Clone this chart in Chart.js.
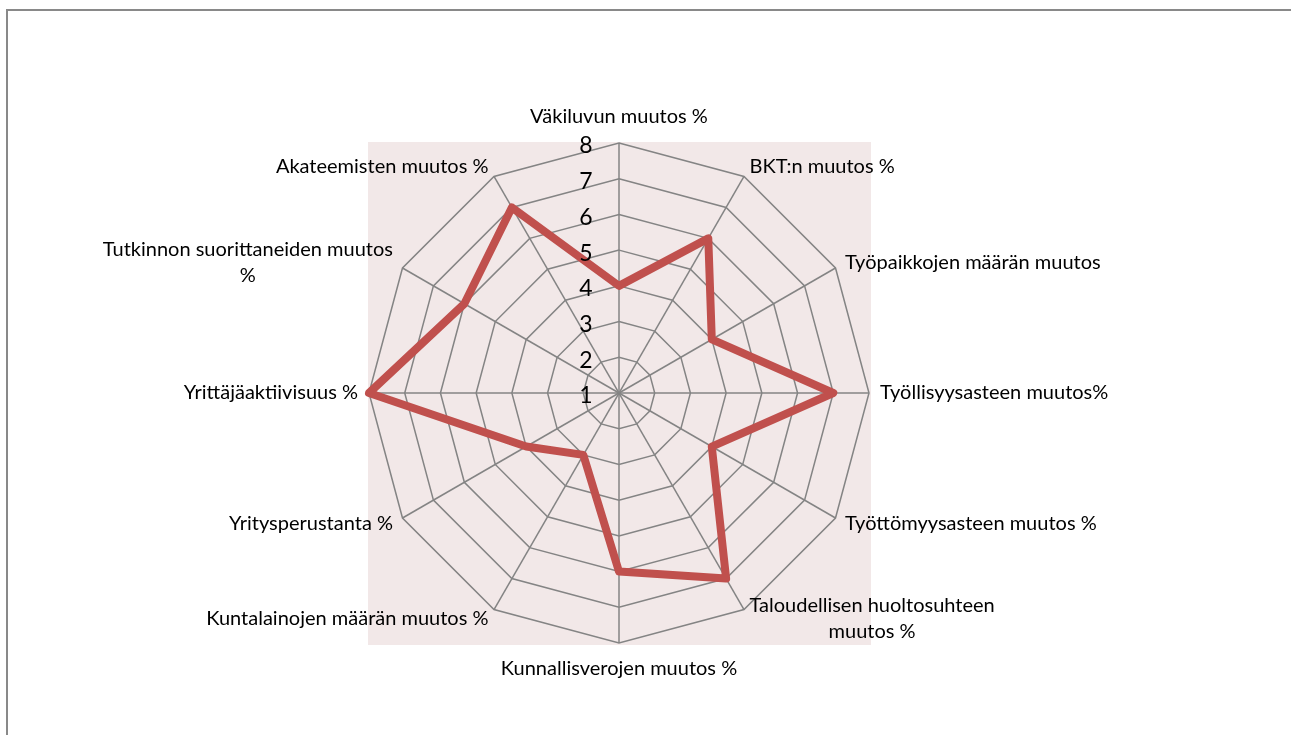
<!DOCTYPE html>
<html>
<head>
<meta charset="utf-8">
<script src="https://cdn.jsdelivr.net/npm/chart.js@4/dist/chart.umd.min.js"></script>
<style>
  html, body { margin: 0; padding: 0; background: #fff; }
  #wrap { position: relative; width: 1291px; height: 735px; }
</style>
</head>
<body>
<div id="wrap"><canvas id="radarChart" width="1291" height="735"></canvas></div>
<script>
// Data
const categories = [
    'Väkiluvun muutos %',
    'BKT:n muutos %',
    'Työpaikkojen määrän muutos',
    'Työllisyysasteen muutos%',
    'Työttömyysasteen muutos %',
    ['Taloudellisen huoltosuhteen', 'muutos %'],
    'Kunnallisverojen muutos %',
    'Kuntalainojen määrän muutos %',
    'Yritysperustanta %',
    'Yrittäjäaktiivisuus %',
    ['Tutkinnon suorittaneiden muutos', '%'],
    'Akateemisten muutos %'
];
const seriesValues = [4, 6, 4, 7, 4, 7, 6, 3, 4, 8, 6, 7];
const scaleMin = 1;
const scaleMax = 8;

const labelFont = '20px Lato';
const tickFont = '23px Lato';

// background square + outer frame
const backgroundPlugin = {
    id: 'plotBackground',
    beforeDraw(chart) {
        const ctx = chart.ctx;
        const s = chart.scales.r;
        const r = s.drawingArea + 1;
        ctx.save();
        ctx.fillStyle = '#f2e8e8';
        ctx.fillRect(s.xCenter - r, s.yCenter - r, r * 2 + 1, r * 2 + 1);
        // frame (top + left only visible)
        ctx.strokeStyle = '#898989';
        ctx.lineWidth = 2;
        ctx.beginPath();
        ctx.moveTo(7, chart.height);
        ctx.lineTo(7, 10);
        ctx.lineTo(chart.width, 10);
        ctx.stroke();
        ctx.restore();
    }
};

// tick numbers + category labels
const labelsPlugin = {
    id: 'radarLabels',
    afterDraw(chart) {
        const ctx = chart.ctx;
        const s = chart.scales.r;
        ctx.save();
        ctx.fillStyle = '#000';

        // tick labels, left of the vertical axis
        ctx.font = tickFont;
        ctx.textAlign = 'center';
        ctx.textBaseline = 'middle';
        s.ticks.forEach(t => {
            const d = s.getDistanceFromCenterForValue(t.value);
            ctx.fillText(String(t.value), s.xCenter - 33, s.yCenter - d + 3);
        });

        // category labels
        ctx.font = labelFont;
        const lineH = 26;
        categories.forEach((lab, i) => {
            const lines = Array.isArray(lab) ? lab : [lab];
            const p = s.getPointPosition(i, s.drawingArea + 11);
            const dx = p.x - s.xCenter;
            const blockW = Math.max(...lines.map(l => ctx.measureText(l).width));
            const blockH = lines.length * lineH;
            let cx, cy;
            if (Math.abs(dx) < 1) {
                cx = p.x;
                cy = p.y < s.yCenter ? p.y - 15 : p.y + 15;
            } else {
                cx = dx > 0 ? p.x + blockW / 2 : p.x - blockW / 2;
                cy = p.y;
            }
            ctx.textAlign = 'center';
            lines.forEach((l, j) => {
                ctx.fillText(l, cx, cy - blockH / 2 + lineH / 2 + j * lineH);
            });
        });
        ctx.restore();
    }
};

const ctx = document.getElementById('radarChart').getContext('2d');
const radarChart = new Chart(ctx, {
    type: 'radar',
    data: {
        labels: categories,
        datasets: [{
            data: seriesValues,
            borderColor: '#c0504d',
            borderWidth: 8,
            borderJoinStyle: 'round',
            fill: false,
            pointRadius: 0,
            pointHoverRadius: 0,
            tension: 0
        }]
    },
    options: {
        responsive: false,
        animation: false,
        layout: { padding: { left: 369, top: 143, right: 421, bottom: 91 } },
        plugins: { legend: { display: false }, tooltip: { enabled: false } },
        scales: {
            r: {
                min: scaleMin,
                max: scaleMax,
                ticks: { display: false, stepSize: 1 },
                pointLabels: { display: false },
                grid: { circular: false, color: '#848484', lineWidth: 1.5 },
                angleLines: { color: '#848484', lineWidth: 1.5 }
            }
        }
    },
    plugins: [backgroundPlugin, labelsPlugin]
});
</script>
</body>
</html>
